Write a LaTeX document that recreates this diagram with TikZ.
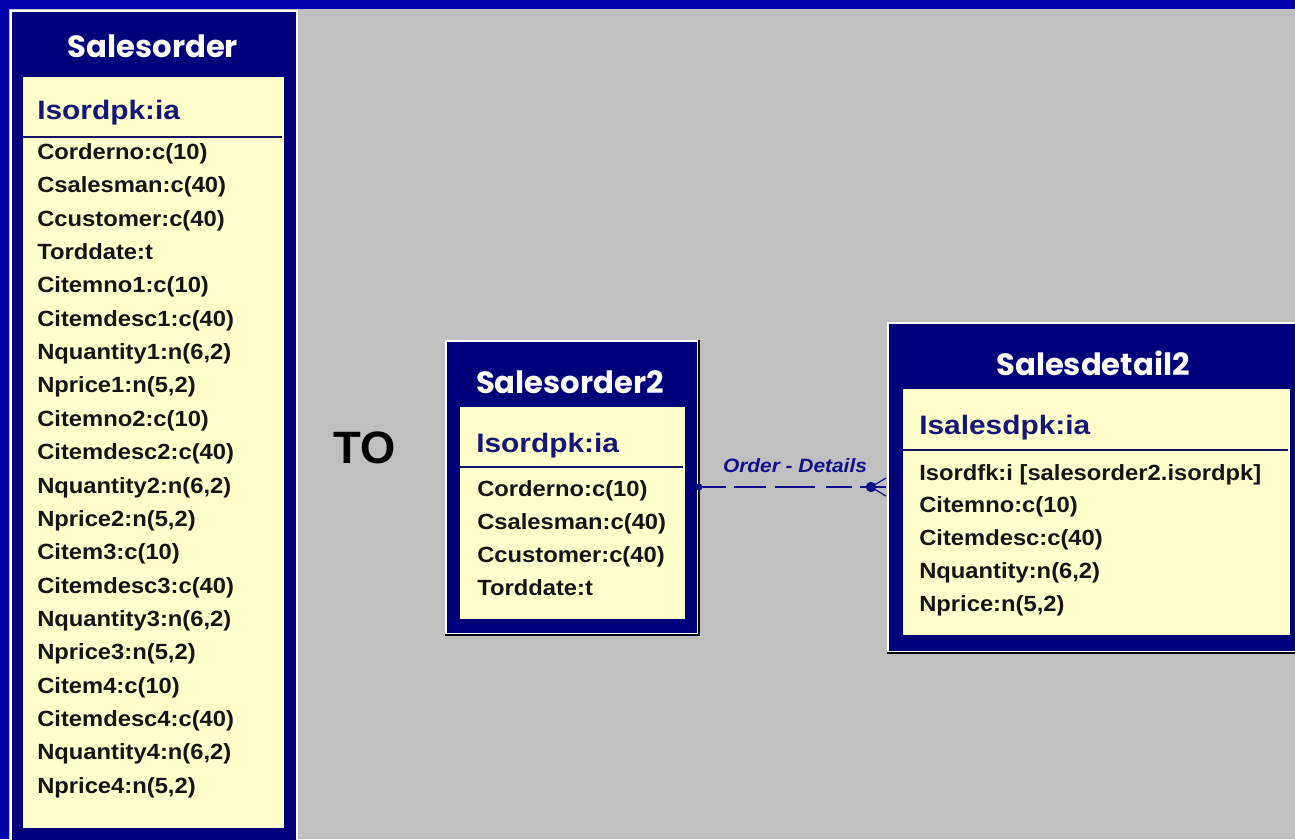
\documentclass[tikz,border=0pt]{standalone}
\usepackage{fontspec}
\setmainfont{Liberation Sans}
\newfontfamily\fieldfam[FakeStretch=1.08]{Liberation Sans}
\newfontfamily\keyfam[FakeStretch=1.12]{Liberation Sans}
\newfontfamily\titlefam{Poppins}
\definecolor{bggray}{HTML}{C0C0C0}
\definecolor{bandblue}{HTML}{0202AE}
\definecolor{framenavy}{HTML}{00007A}
\definecolor{bodyyellow}{HTML}{FFFFCC}
\definecolor{keynavy}{HTML}{16167A}
\definecolor{fieldblack}{HTML}{141414}
\definecolor{linknavy}{HTML}{10108C}
\begin{document}
\begin{tikzpicture}[x=0.75pt,y=-0.75pt,
  tframe/.style={fill=framenavy,draw=white,line width=1.5pt,inner sep=0pt,anchor=north west},
  tbody/.style={fill=bodyyellow,draw=none,inner sep=0pt,anchor=north west},
  ttitle/.style={text=white,font=\titlefam\bfseries\fontsize{23}{26}\selectfont,anchor=base,inner sep=0pt},
  tkey/.style={text=keynavy,font=\keyfam\bfseries\fontsize{20}{24}\selectfont,anchor=base west,inner sep=0pt},
  tfield/.style={text=fieldblack,font=\fieldfam\bfseries\fontsize{16.5}{20}\selectfont,anchor=base west,inner sep=0pt},
  sepline/.style={draw=keynavy!80!black,line width=1pt},
  shadowline/.style={draw=black,line width=1.5pt},
  link/.style={draw=linknavy,line width=1.1pt,dash pattern=on 20pt off 6pt on 24pt off 7pt on 30pt off 8pt},
  crow/.style={draw=linknavy,line width=0.9pt},
  lbl/.style={text=linknavy,font=\fieldfam\bfseries\itshape\fontsize{14.5}{17}\selectfont,inner sep=0pt}
]
\useasboundingbox (0,0) rectangle (1295,839);
\clip (0,0) rectangle (1295,839);
% background
\fill[bggray] (0,0) rectangle (1295,839);
\fill[bandblue] (0,0) rectangle (1295,9);
\fill[bandblue] (0,0) rectangle (9,839);

% ---------- Salesorder ----------
\node[tframe,minimum width=286*0.75pt,minimum height=850*0.75pt] (so) at (10,10) {};
\node[tbody,minimum width=261*0.75pt,minimum height=751*0.75pt] (sobody) at (23,77) {};
\node[ttitle] (sotitle) at (153,57) {Salesorder};
\node[tkey] (sokey) at (37,119) {Isordpk:ia};
\draw[sepline] ([yshift=-60*0.75pt]sobody.north west) -- ([yshift=-60*0.75pt,xshift=-3*0.75pt]sobody.north east);
\foreach \t [count=\i] in {Corderno:c(10),Csalesman:c(40),Ccustomer:c(40),Torddate:t,Citemno1:c(10),Citemdesc1:c(40),{Nquantity1:n(6,2)},{Nprice1:n(5,2)},Citemno2:c(10),Citemdesc2:c(40),{Nquantity2:n(6,2)},{Nprice2:n(5,2)},Citem3:c(10),Citemdesc3:c(40),{Nquantity3:n(6,2)},{Nprice3:n(5,2)},Citem4:c(10),Citemdesc4:c(40),{Nquantity4:n(6,2)},{Nprice4:n(5,2)}}
  \node[tfield] (sof\i) at (37,{159.5+33.35*(\i-1)}) {\t};

% ---------- TO ----------
\node[anchor=base west,inner sep=0pt,text=black,font=\bfseries\fontsize{34}{38}\selectfont] (to) at (333,463) {TO};

% ---------- Salesorder2 ----------
\node[tframe,minimum width=252*0.75pt,minimum height=293*0.75pt] (so2) at (445,340) {};
\draw[shadowline] (so2.north east) -- (so2.south east) -- (so2.south west);
\node[tbody,minimum width=225*0.75pt,minimum height=212*0.75pt] (so2body) at (460,407) {};
\node[ttitle] (so2title) at (570,393) {Salesorder2};
\node[tkey] (so2key) at (476,452) {Isordpk:ia};
\draw[sepline] ([yshift=-60*0.75pt]so2body.north west) -- ([yshift=-60*0.75pt,xshift=-3*0.75pt]so2body.north east);
\foreach \t [count=\i] in {Corderno:c(10),Csalesman:c(40),Ccustomer:c(40),Torddate:t}
  \node[tfield] (so2f\i) at (477,{496+33*(\i-1)}) {\t};

% ---------- Salesdetail2 ----------
\node[tframe,minimum width=420*0.75pt,minimum height=329*0.75pt] (sd2) at (887,322) {};
\draw[shadowline] (sd2.south east) -- (sd2.south west);
\node[tbody,minimum width=387*0.75pt,minimum height=246*0.75pt] (sd2body) at (903,389) {};
\node[ttitle] (sd2title) at (1093,375) {Salesdetail2};
\node[tkey] (sd2key) at (919,434) {Isalesdpk:ia};
\draw[sepline] ([yshift=-61*0.75pt]sd2body.north west) -- ([yshift=-61*0.75pt,xshift=-3*0.75pt]sd2body.north east);
\foreach \t [count=\i] in {Isordfk:i [salesorder2.isordpk],Citemno:c(10),Citemdesc:c(40),{Nquantity:n(6,2)},{Nprice:n(5,2)}}
  \node[tfield] (sd2f\i) at (919,{480+32.8*(\i-1)}) {\t};

% ---------- relationship ----------
\coordinate (ra) at (699,487);
\coordinate (rb) at (871,487);
\coordinate (cf1) at (886,478);
\coordinate (cf2) at (886,487);
\coordinate (cf3) at (886,496);
\draw[link] (ra) -- (rb);
\fill[linknavy] (ra) circle (2.6pt);
\fill[linknavy] (rb) circle (3.9pt);
\draw[crow] (rb) -- (cf1);
\draw[crow] (rb) -- (cf2);
\draw[crow] (rb) -- (cf3);
\node[lbl] (rlabel) at (795,466) {Order - Details};
\end{tikzpicture}
\end{document}
